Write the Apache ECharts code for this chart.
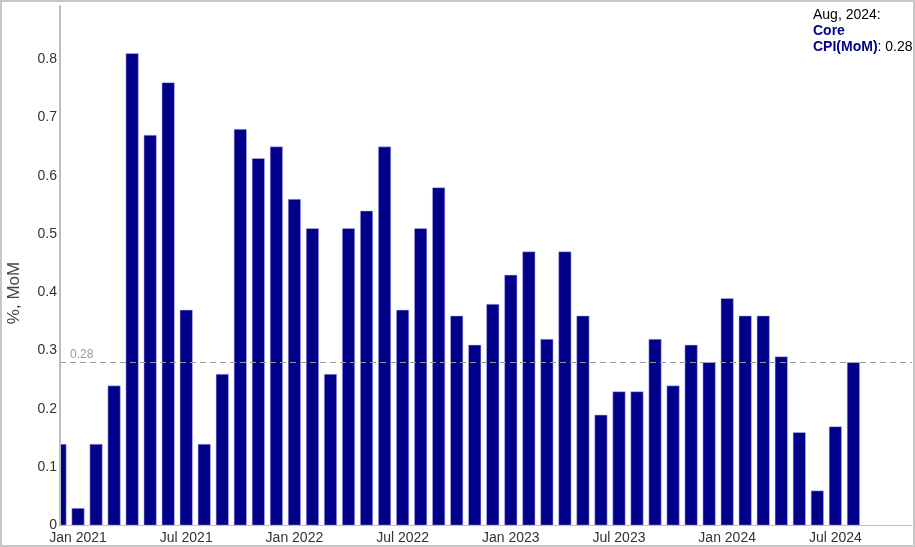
<!DOCTYPE html>
<html>
<head>
<meta charset="utf-8">
<script src="https://cdn.jsdelivr.net/npm/echarts@6/dist/echarts.min.js"></script>
<style>
html,body{margin:0;padding:0;background:#fff;}
#chart{width:915px;height:547px;}
</style>
</head>
<body>
<div id="chart"></div>
<script>
// Months, Dec 2020 .. Aug 2024
const months = ['Dec 2020','Jan 2021','Feb 2021','Mar 2021','Apr 2021','May 2021','Jun 2021','Jul 2021','Aug 2021','Sep 2021','Oct 2021','Nov 2021','Dec 2021',
  'Jan 2022','Feb 2022','Mar 2022','Apr 2022','May 2022','Jun 2022','Jul 2022','Aug 2022','Sep 2022','Oct 2022','Nov 2022','Dec 2022',
  'Jan 2023','Feb 2023','Mar 2023','Apr 2023','May 2023','Jun 2023','Jul 2023','Aug 2023','Sep 2023','Oct 2023','Nov 2023','Dec 2023',
  'Jan 2024','Feb 2024','Mar 2024','Apr 2024','May 2024','Jun 2024','Jul 2024','Aug 2024'];
const coreCpiMoM = [0.14,0.03,0.14,0.24,0.81,0.67,0.76,0.37,0.14,0.26,0.68,0.63,0.65,
  0.56,0.51,0.26,0.51,0.54,0.65,0.37,0.51,0.58,0.36,0.31,0.38,
  0.43,0.47,0.32,0.47,0.36,0.19,0.23,0.23,0.32,0.24,0.31,0.28,
  0.39,0.36,0.36,0.29,0.16,0.06,0.17,0.28];
const xTickLabels = ['Jan 2021','Jul 2021','Jan 2022','Jul 2022','Jan 2023','Jul 2023','Jan 2024','Jul 2024'];
const latestValue = 0.28;

const tickPositions = xTickLabels.map(l => months.indexOf(l));
const seriesData = coreCpiMoM.map((v, i) => [i, v]);

const chart = echarts.init(document.getElementById('chart'));
const font = 'Liberation Sans, Arial, sans-serif';
chart.setOption({
  animation: false,
  backgroundColor: '#fff',
  grid: {left: 60, right: 3, top: 6, bottom: 21.5, containLabel: false},
  xAxis: {
    type: 'value', min: 0, max: 47.25, z: 3,
    splitLine: {show: false},
    axisTick: {show: false},
    axisLine: {show: true, lineStyle: {color: '#c0c0c0', width: 1}},
    axisLabel: {
      customValues: tickPositions,
      formatter: v => months[v] || '',
      color: '#333', fontSize: 14, fontFamily: font, margin: 6
    }
  },
  yAxis: {
    type: 'value', min: 0, max: 0.891, interval: 0.1, z: 3,
    splitLine: {show: false},
    axisTick: {show: false},
    axisLine: {show: true, lineStyle: {color: '#bdbdbd', width: 2}},
    axisLabel: {
      showMaxLabel: false,
      formatter: v => (Math.round(v * 10) / 10).toString(),
      color: '#333', fontSize: 14, fontFamily: font, margin: 3
    }
  },
  series: [{
    type: 'bar',
    clip: true,
    z: 1,
    data: seriesData,
    barWidth: 13,
    itemStyle: {color: '#00008b', borderColor: 'rgba(190,190,240,0.9)', borderWidth: 0.6},
    markLine: {
      symbol: 'none', silent: true,
      lineStyle: {color: '#999', type: [6, 4], width: 1},
      label: {position: 'insideStartTop', formatter: String(latestValue), color: '#999', fontSize: 12, fontFamily: font, distance: [10, 2]},
      data: [{yAxis: latestValue}]
    }
  }],
  graphic: [
    {type: 'rect', z: 2, shape: {x: 1, y: 1, width: 58.5, height: 545}, style: {fill: '#fff'}, silent: true},
    {type: 'text', z: 4, x: 14, y: 293, rotation: Math.PI / 2,
      style: {text: '%, MoM', fill: '#444', font: '17px ' + font, textAlign: 'center', textVerticalAlign: 'middle'}},
    {type: 'text', z: 4, left: 813, top: 8,
      style: {
        text: '{a|Aug, 2024:}\n{b|Core}\n{b|CPI(MoM)}{a|: 0.28}',
        rich: {
          a: {fill: '#000', font: '14px ' + font, lineHeight: 16},
          b: {fill: '#00008b', font: 'bold 14px ' + font, lineHeight: 16}
        }
      }},
    {type: 'rect', z: 5, shape: {x: 1, y: 1, width: 913, height: 545}, style: {fill: 'none', stroke: '#c6c6c6', lineWidth: 2}, silent: true}
  ]
});
</script>
</body>
</html>
